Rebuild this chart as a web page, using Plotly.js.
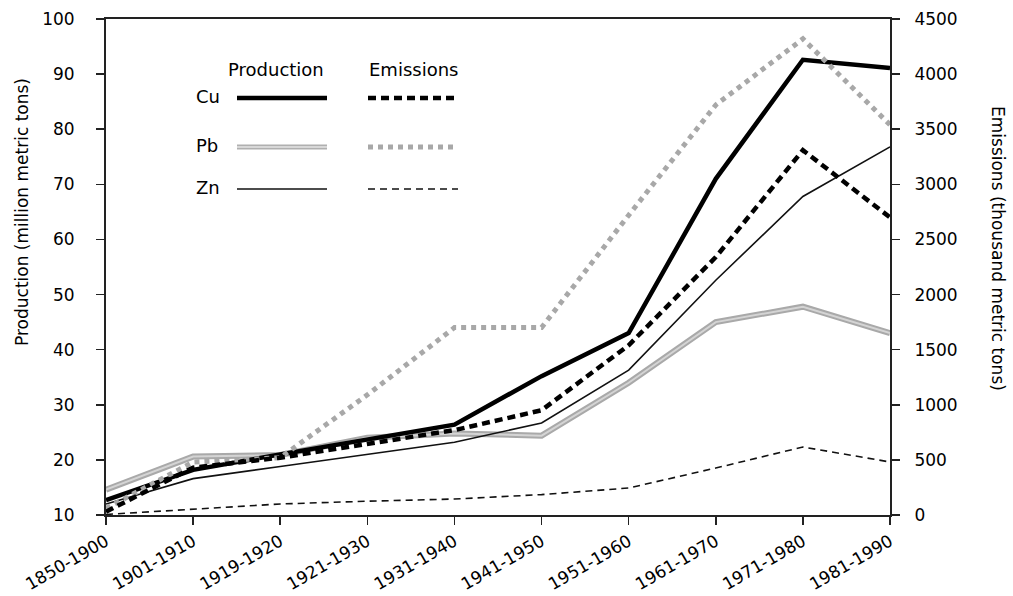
<!DOCTYPE html>
<html>
<head>
<meta charset="utf-8">
<script src="https://cdn.plot.ly/plotly-3.0.1.min.js"></script>
<style>html,body{margin:0;padding:0;background:#fff;}#chart{width:1013px;height:596px;}</style>
</head>
<body>
<div id="chart"></div>
<script>
const periods = ["1850-1900","1901-1910","1919-1920","1921-1930","1931-1940","1941-1950","1951-1960","1961-1970","1971-1980","1981-1990"];
// Production (million metric tons), left axis
const cuProduction = [12.7, 18.2, 21.0, 23.6, 26.4, 35.2, 43.0, 71.0, 92.6, 91.1];
const pbProduction = [14.6, 20.6, 20.9, 24.0, 24.8, 24.4, 34.0, 45.0, 47.8, 43.0];
const znProduction = [12.0, 16.6, 18.8, 21.0, 23.2, 26.7, 36.3, 52.6, 67.8, 76.8];
// Emissions (thousand metric tons), right axis
const cuEmissions = [30, 430, 520, 640, 770, 950, 1540, 2340, 3310, 2700];
const pbEmissions = [60, 480, 520, 1090, 1700, 1700, 2720, 3720, 4320, 3540];
const znEmissions = [5, 55, 100, 125, 145, 185, 245, 426, 617, 481];

const FONT = "DejaVu Sans, Arial, sans-serif";
const FS = 17;

const traces = [
  {x: periods, y: pbEmissions, yaxis: "y2", mode: "lines", line: {color: "#a8a8a8", width: 5, dash: "5px,5px"}},
  {x: periods, y: pbProduction, mode: "lines", line: {color: "#a9a9a9", width: 6}},
  {x: periods, y: pbProduction, mode: "lines", line: {color: "#d4d4d4", width: 2}},
  {x: periods, y: znEmissions, yaxis: "y2", mode: "lines", line: {color: "#111", width: 1.6, dash: "7px,5px"}},
  {x: periods, y: znProduction, mode: "lines", line: {color: "#111", width: 1.6}},
  {x: periods, y: cuEmissions, yaxis: "y2", mode: "lines", line: {color: "#000", width: 4.5, dash: "8px,5px"}},
  {x: periods, y: cuProduction, mode: "lines", line: {color: "#000", width: 4.5}}
];

function px(x){ return (x-106)/784; }
function py(y){ return (515-y)/496; }

const legendRows = [
  {label: "Cu", y: 96, prod: {color: "#000", width: 4.5, dash: "solid"}, emis: {color: "#000", width: 4.5, dash: "8px,5px"}},
  {label: "Pb", y: 145, prod: {color: "#b0b0b0", width: 5, dash: "solid"}, emis: {color: "#a8a8a8", width: 5, dash: "5px,5px"}},
  {label: "Zn", y: 187, prod: {color: "#111", width: 1.6, dash: "solid"}, emis: {color: "#111", width: 1.6, dash: "7px,5px"}}
];

const shapes = [];
const annotations = [
  {text: "Production", x: px(276), y: py(70), xref: "paper", yref: "paper", showarrow: false, xanchor: "center", yanchor: "middle", font: {family: FONT, size: 18, color: "#000"}},
  {text: "Emissions", x: px(413), y: py(70), xref: "paper", yref: "paper", showarrow: false, xanchor: "center", yanchor: "middle", font: {family: FONT, size: 18, color: "#000"}},
  {text: "Production (million metric tons)", x: px(22), y: py(212), xref: "paper", yref: "paper", showarrow: false, textangle: -90, xanchor: "center", yanchor: "middle", font: {family: FONT, size: 17, color: "#000"}},
  {text: "Emissions (thousand metric tons)", x: px(998), y: py(248), xref: "paper", yref: "paper", showarrow: false, textangle: 90, xanchor: "center", yanchor: "middle", font: {family: FONT, size: 17, color: "#000"}}
];
legendRows.forEach(r => {
  annotations.push({text: r.label, x: px(194), y: py(r.y), xref: "paper", yref: "paper", showarrow: false, xanchor: "left", yanchor: "middle", font: {family: FONT, size: 18, color: "#000"}});
  shapes.push({type: "line", xref: "paper", yref: "paper", x0: px(237), x1: px(327), y0: py(r.y+2), y1: py(r.y+2), line: r.prod});
  shapes.push({type: "line", xref: "paper", yref: "paper", x0: px(368), x1: px(458), y0: py(r.y+2), y1: py(r.y+2), line: r.emis});
});
shapes.push({type: "line", xref: "paper", yref: "paper", x0: px(237), x1: px(327), y0: py(147), y1: py(147), line: {color: "#d8d8d8", width: 2}});

const axisCommon = {
  showgrid: false, zeroline: false,
  showline: true, linecolor: "#222", linewidth: 2,
  ticks: "outside", ticklen: 8, tickwidth: 1.5, tickcolor: "#222",
  tickfont: {family: FONT, size: FS, color: "#000"}
};

const layout = {
  width: 1013, height: 596,
  margin: {l: 106, r: 123, t: 19, b: 81, pad: 0},
  paper_bgcolor: "#fff", plot_bgcolor: "#fff",
  showlegend: false,
  font: {family: FONT, size: FS, color: "#000"},
  xaxis: Object.assign({}, axisCommon, {
    type: "category", categoryorder: "array", categoryarray: periods,
    range: [0, 9], mirror: true, tickangle: -30
  }),
  yaxis: Object.assign({}, axisCommon, {
    range: [10, 100], dtick: 10, ticklabelstandoff: 18
  }),
  yaxis2: Object.assign({}, axisCommon, {
    range: [0, 4500], dtick: 500, overlaying: "y", side: "right", ticklabelstandoff: 11
  }),
  shapes: shapes,
  annotations: annotations
};

Plotly.newPlot("chart", traces, layout, {displayModeBar: false, staticPlot: true});
</script>
</body>
</html>
